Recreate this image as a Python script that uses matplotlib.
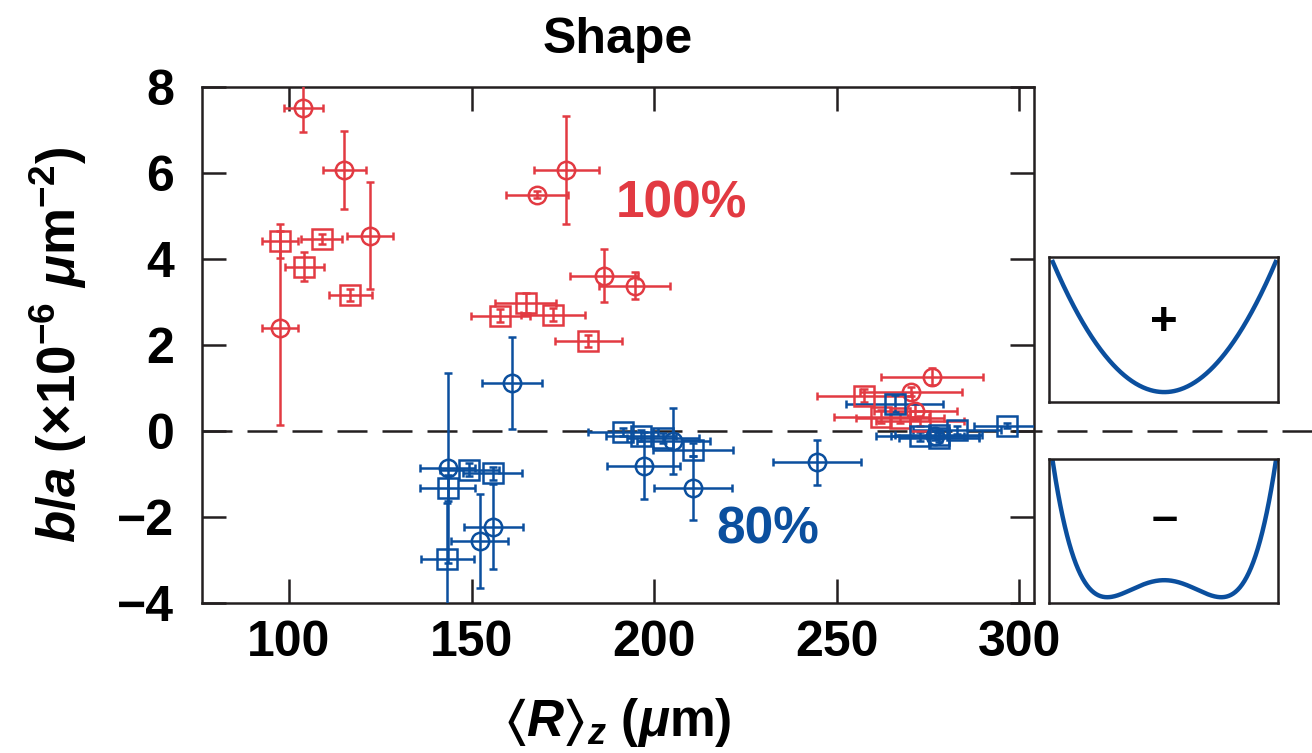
import matplotlib
matplotlib.use('Agg')
import matplotlib.pyplot as plt
import numpy as np

plt.rcParams['font.family'] = ['Liberation Sans', 'DejaVu Sans']
plt.rcParams['font.weight'] = 'bold'
plt.rcParams['axes.labelweight'] = 'bold'
plt.rcParams['mathtext.fontset'] = 'custom'
plt.rcParams['mathtext.rm'] = 'Liberation Sans:bold'
plt.rcParams['mathtext.it'] = 'Liberation Sans:bold:italic'
plt.rcParams['mathtext.bf'] = 'Liberation Sans:bold'
plt.rcParams['mathtext.sf'] = 'Liberation Sans:bold'
plt.rcParams['mathtext.fallback'] = 'stixsans'

RED = '#e23a42'
BLUE = '#0b4f9e'
DARK = '#231f20'

# 100% series, circles: x, y, xerr, yerr
red_circ_x = [103.9, 115.2, 122.2, 97.6, 175.9, 167.9, 186.2, 194.7, 276.1, 270.4, 271.5]
red_circ_y = [7.53, 6.08, 4.55, 2.40, 6.08, 5.50, 3.62, 3.39, 1.27, 0.92, 0.48]
red_circ_xe = [5.3, 5.8, 6.3, 5.0, 8.9, 8.5, 9.3, 9.7, 14.0, 13.9, 11.4]
red_circ_ye = [0.57, 0.90, 1.25, 2.25, 1.26, 0.08, 0.61, 0.32, 0.20, 0.10, 0.15]

# 100% series, squares
red_sq_x = [97.5, 109.0, 104.2, 116.8, 157.9, 164.8, 172.4, 182.0, 257.6, 262.2, 267.4, 272.9]
red_sq_y = [4.42, 4.47, 3.83, 3.17, 2.69, 2.98, 2.71, 2.09, 0.83, 0.34, 0.30, 0.23]
red_sq_xe = [5.0, 5.6, 5.3, 5.9, 8.0, 8.3, 8.8, 9.2, 13.0, 13.0, 12.0, 12.0]
red_sq_ye = [0.40, 0.12, 0.34, 0.15, 0.16, 0.24, 0.15, 0.14, 0.15, 0.15, 0.12, 0.12]

# 80% series, circles
blue_circ_x = [161.2, 143.5, 156.0, 152.3, 205.3, 197.1, 210.6, 244.6, 277.0]
blue_circ_y = [1.13, -0.86, -2.22, -2.55, -0.22, -0.80, -1.32, -0.72, -0.10]
blue_circ_xe = [8.2, 7.5, 8.0, 7.8, 10.0, 10.0, 10.7, 12.1, 12.0]
blue_circ_ye = [1.07, 2.21, 0.99, 1.10, 0.77, 0.78, 0.74, 0.52, 0.10]

# 80% series, squares
blue_sq_x = [143.5, 149.4, 155.8, 143.4, 191.4, 196.4, 202.5, 210.6, 265.9, 272.9, 277.9, 282.9, 278.0, 296.6]
blue_sq_y = [-1.32, -0.90, -0.98, -2.97, -0.02, -0.10, -0.16, -0.43, 0.64, -0.12, -0.08, 0.03, -0.15, 0.13]
blue_sq_xe = [7.5, 8.0, 8.0, 7.3, 9.6, 9.7, 9.8, 11.0, 13.3, 12.0, 12.0, 12.0, 11.0, 9.0]
blue_sq_ye = [0.30, 0.15, 0.15, 1.30, 0.10, 0.12, 0.12, 0.15, 0.20, 0.10, 0.10, 0.10, 0.10, 0.05]

x_ticks = [100, 150, 200, 250, 300]
y_ticks = [-4, -2, 0, 2, 4, 6, 8]

# schematic trap shapes (polynomial coefficients, highest power first)
well_plus = [1.0, 0.0, 0.0]
well_minus = [1.0, 0.0, -0.524, 0.0, 0.0]

fig = plt.figure(figsize=(13.12, 7.53), dpi=100)
ax = fig.add_axes([0.154, 0.199, 0.634, 0.685])

err_kw = dict(linestyle='none', elinewidth=1.8, capsize=3, capthick=1.8,
              markerfacecolor='none', markeredgewidth=1.8, zorder=3)
ax.errorbar(red_circ_x, red_circ_y, xerr=red_circ_xe, yerr=red_circ_ye,
            marker='o', markersize=12.5, color=RED, **err_kw)
ax.errorbar(red_sq_x, red_sq_y, xerr=red_sq_xe, yerr=red_sq_ye,
            marker='s', markersize=15, color=RED, **err_kw)
ax.errorbar(blue_circ_x, blue_circ_y, xerr=blue_circ_xe, yerr=blue_circ_ye,
            marker='o', markersize=12.5, color=BLUE, **err_kw)
ax.errorbar(blue_sq_x, blue_sq_y, xerr=blue_sq_xe, yerr=blue_sq_ye,
            marker='s', markersize=15, color=BLUE, **err_kw)

# zero line runs on past the axes, between the two insets
zl = ax.axhline(0, xmin=0, xmax=1.34, color=DARK, lw=1.8, clip_on=False, zorder=2)
zl.set_dashes([12, 6])

ax.set_xlim(76.2, 304.0)
ax.set_ylim(-4, 8)
ax.set_xticks(x_ticks)
ax.set_yticks(y_ticks)
ax.tick_params(direction='in', length=17, width=1.8, color=DARK,
               top=True, right=True, labelsize=36)
ax.tick_params(axis='y', pad=20)
ax.tick_params(axis='x', pad=12)
for s in ax.spines.values():
    s.set_linewidth(1.8)
    s.set_color(DARK)

ax.set_title('Shape', fontsize=36, fontweight='bold', pad=25)
ax.set_xlabel(r'$\langle R\rangle_z$ ($\mu$m)', fontsize=37, labelpad=22)
ax.set_ylabel(r'$b/a$ ($\times$10$^{-6}$ $\mu$m$^{-2}$)', fontsize=38, labelpad=20)

ax.text(207.4, 5.29, '100%', color=RED, fontsize=37, fontweight='bold',
        ha='center', va='center')
ax.text(231.2, -2.29, '80%', color=BLUE, fontsize=37, fontweight='bold',
        ha='center', va='center')

# insets
xs = np.linspace(-1, 1, 300)
insets = [
    ([0.7995, 0.466, 0.1745, 0.1926], well_plus, (-0.077, 1.038), '+', 0.53),
    ([0.7995, 0.199, 0.1745, 0.1912], well_minus, (-0.044, 1.022), '–', 0.58),
]
for rect, coeffs, ylim, sign, ty in insets:
    ia = fig.add_axes(rect)
    v = np.polyval(coeffs, xs)
    v = (v - v.min()) / (v.max() - v.min())
    ia.plot(xs, v, color=BLUE, lw=3.2)
    ia.set_xlim(-1.035, 1.02)
    ia.set_ylim(*ylim)
    ia.set_xticks([])
    ia.set_yticks([])
    for s in ia.spines.values():
        s.set_linewidth(1.8)
        s.set_color(DARK)
    ia.text(0, ty, sign, fontsize=34, fontweight='bold', ha='center', va='center')

fig.savefig('out.png', dpi=100)
